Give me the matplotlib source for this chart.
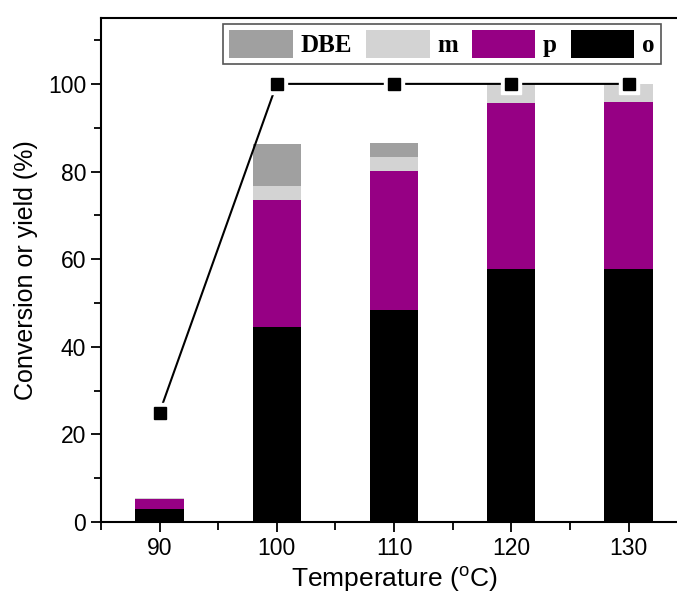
import numpy as np
import matplotlib
matplotlib.use("Agg")
import matplotlib.pyplot as plt
from matplotlib.ticker import MultipleLocator

# data
temps = [90, 100, 110, 120, 130]
o_yield = [3.0, 44.6, 48.3, 57.8, 57.8]
p_yield = [2.2, 29.0, 31.8, 37.9, 38.0]
m_yield = [0.4, 3.0, 3.2, 4.2, 4.2]
dbe_yield = [0.0, 9.6, 3.2, 0.0, 0.0]
conversion = [25.0, 100, 100, 100, 100]

plt.rcParams['font.family'] = ['Liberation Sans', 'DejaVu Sans']
plt.rcParams['mathtext.fontset'] = 'custom'
plt.rcParams['mathtext.rm'] = 'Liberation Sans'

fig = plt.figure(figsize=(6.77, 6.05), dpi=100)
ax = fig.add_axes([0.149, 0.137, 0.866, 0.833])

x = np.array(temps)
o = np.array(o_yield)
p = np.array(p_yield)
m = np.array(m_yield)
d = np.array(dbe_yield)

w = 4.1
b_o = ax.bar(x, o, w, color='black', label='o', zorder=2)
b_p = ax.bar(x, p, w, bottom=o, color='#960084', label='p', zorder=2)
b_m = ax.bar(x, m, w, bottom=o + p, color='#d3d3d3', label='m', zorder=2)
b_d = ax.bar(x, d, w, bottom=o + p + m, color='#a0a0a0', label='DBE', zorder=2)

# conversion line with gaps around the markers
ax.plot(x, conversion, color='black', lw=1.5, zorder=3)
ax.plot(x, conversion, 's', color='white', ms=15, zorder=4)
ax.plot(x, conversion, 's', color='black', ms=8.5, zorder=5)

ax.set_xlim(85, 135)
ax.set_ylim(0, 115)
ax.set_xticks(temps)
ax.xaxis.set_minor_locator(MultipleLocator(5))
ax.yaxis.set_minor_locator(MultipleLocator(10))
ax.set_yticks([0, 20, 40, 60, 80, 100])
ax.tick_params(which='major', direction='out', length=7, width=1.3, labelsize=16.5)
ax.tick_params(which='minor', direction='out', length=5, width=1.3)
ax.tick_params(axis='x', which='minor', length=6)
for s in ax.spines.values():
    s.set_linewidth(1.5)

ax.set_xlabel(r'Temperature ($\mathregular{^{o}}$C)', fontsize=19, labelpad=4)
ax.set_ylabel('Conversion or yield (%)', fontsize=18, labelpad=7)

leg = fig.legend(handles=[b_d, b_m, b_p, b_o], labels=['DBE', 'm', 'p', 'o'],
                 ncol=4, loc='upper left', bbox_to_anchor=(223 / 677, 1 - 24 / 605),
                 bbox_transform=fig.transFigure, borderaxespad=0,
                 prop={'family': 'Liberation Serif', 'weight': 'bold', 'size': 18},
                 handlelength=2.55, handleheight=1.3, handletextpad=0.3,
                 columnspacing=0.55, borderpad=0.25, fancybox=False,
                 frameon=True, edgecolor='#555555', framealpha=1)
leg.get_frame().set_linewidth(1.2)

fig.savefig('out.png', dpi=100)
